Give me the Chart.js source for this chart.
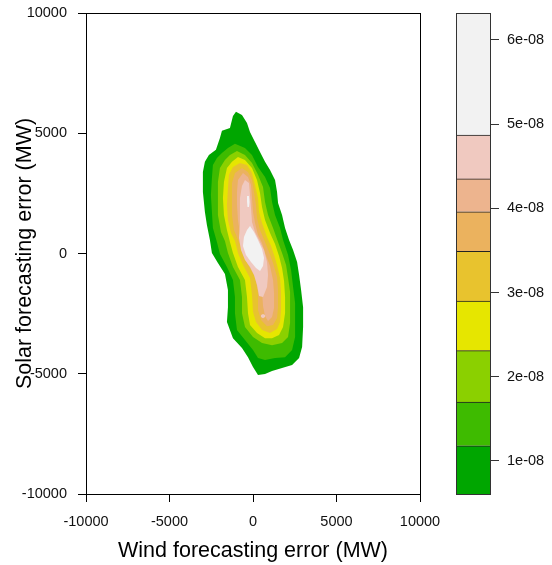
<!DOCTYPE html>
<html lang="en">
<head>
  <meta charset="UTF-8">
  <title>Wind vs solar forecasting error density</title>
  <script src="https://cdn.jsdelivr.net/npm/chart.js"></script>
  <style>
    body {
      margin: 0;
      background: white;
    }
    #wrap {
      position: relative;
      width: 552px;
      height: 565px;
    }
    #wrap canvas {
      position: absolute;
      top: 0;
    }
  </style>
</head>
<body>
  <div id="wrap">
    <canvas id="density" width="552" height="565" style="left:0"></canvas>
    <canvas id="key" width="112" height="565" style="left:440px"></canvas>
  </div>

  <script>
    // axis ticks (MW)
    const xTicks = [-10000, -5000, 0, 5000, 10000];
    const yTicks = [-10000, -5000, 0, 5000, 10000];

    // density levels of the key and their colours (terrain.colors(9))
    const keyLevels = [0.608e-8, 1.18e-8, 1.70e-8, 2.31e-8, 2.90e-8, 3.49e-8, 3.96e-8, 4.35e-8, 4.87e-8, 6.32e-8];
    const keyTicks = [1e-8, 2e-8, 3e-8, 4e-8, 5e-8, 6e-8];
    const bandColors = ["#00A600", "#3EBB00", "#8BD000", "#E6E600", "#E8C32E", "#EBB25E", "#EDB48E", "#F0C9C0", "#F2F2F2"];

    // contour outlines, [wind, solar] in MW, one per level (band index = level - 1)
    const level1 = [[-1020, 5890], [-660, 5760], [-360, 5430], [-180, 5050], [120, 4640], [420, 4220], [720, 3810], [1020, 3470],
      [1320, 3060], [1440, 2560], [1500, 2100], [1740, 1600], [1920, 1060], [2160, 560], [2400, 150], [2640, -350],
      [2760, -890], [2880, -1520], [3000, -2230], [3000, -3060], [2940, -3890], [2760, -4350], [2340, -4640], [1740, -4760],
      [1140, -4890], [720, -5010], [300, -5050], [0, -4720], [-300, -4310], [-660, -3930], [-1200, -3520], [-1560, -2850],
      [-1500, -2230], [-1500, -1520], [-1680, -850], [-2100, -400], [-2460, 20], [-2580, 560], [-2760, 1190], [-2880, 1730],
      [-3000, 2560], [-3000, 3390], [-2880, 3810], [-2640, 4100], [-2220, 4310], [-1980, 4800], [-1860, 5100], [-1380, 5220],
      [-1200, 5720]];
    const level2 = [[-1080, 4560], [-480, 4390], [-60, 4100], [300, 3600], [720, 3180], [1020, 2720], [1140, 2140], [1320, 1600],
      [1620, 1060], [1800, 560], [2100, -60], [2280, -690], [2400, -1390], [2520, -2060], [2520, -2770], [2520, -3470],
      [2340, -4010], [1920, -4310], [1320, -4350], [720, -4430], [300, -4350], [0, -4010], [-480, -3600], [-960, -3180],
      [-1080, -2480], [-1080, -1810], [-1200, -1100], [-1560, -560], [-1980, -20], [-2160, 480], [-2400, 1060], [-2460, 1730],
      [-2520, 2430], [-2460, 3140], [-2400, 3680], [-2160, 3970], [-1860, 4180], [-1500, 4390]];
    const level3 = [[-960, 4260], [-480, 4100], [-60, 3760], [300, 3270], [600, 2770], [720, 2140], [900, 1600], [1200, 1060],
      [1500, 480], [1740, 20], [1980, -480], [2100, -1020], [2220, -1600], [2220, -2230], [2220, -2890], [2100, -3470],
      [1740, -3720], [1140, -3810], [540, -3720], [0, -3470], [-480, -3060], [-660, -2480], [-660, -1810], [-780, -1100],
      [-1200, -560], [-1500, 20], [-1680, 520], [-1920, 890], [-2100, 1600], [-2100, 2310], [-2100, 2970], [-1980, 3560],
      [-1680, 3890], [-1380, 4100]];
    const level4 = [[-900, 4010], [-480, 3890], [-60, 3560], [240, 3060], [420, 2520], [540, 1930], [720, 1390], [1020, 850],
      [1320, 400], [1560, -100], [1740, -600], [1860, -1140], [1920, -1810], [1920, -2480], [1800, -3060], [1560, -3390],
      [1140, -3520], [720, -3520], [240, -3310], [-180, -2970], [-300, -2480], [-360, -1810], [-480, -1100], [-900, -560],
      [-1200, 20], [-1380, 480], [-1560, 980], [-1740, 1600], [-1800, 2310], [-1740, 2970], [-1560, 3560], [-1260, 3810]];
    const level5 = [[-780, 3760], [-360, 3680], [-60, 3350], [120, 2850], [300, 2310], [360, 1730], [540, 1270], [840, 690],
      [1080, 310], [1260, -60], [1440, -480], [1620, -1020], [1680, -1640], [1680, -2350], [1620, -2850], [1440, -3140],
      [1020, -3310], [540, -3180], [180, -2850], [0, -2430], [-60, -1730], [-180, -1020], [-600, -480], [-900, 20],
      [-1080, 520], [-1320, 850], [-1500, 1390], [-1560, 2020], [-1500, 2720], [-1440, 3270], [-1200, 3600]];
    const level6 = [[-660, 3560], [-300, 3390], [-60, 3060], [60, 2560], [180, 2020], [240, 1480], [420, 980], [720, 480],
      [960, 60], [1200, -400], [1440, -980], [1500, -1520], [1500, -2230], [1440, -2680], [1200, -2970], [840, -3020],
      [480, -2770], [300, -2350], [300, -1640], [120, -980], [-300, -480], [-600, 20], [-840, 480], [-1140, 980],
      [-1260, 1600], [-1260, 2310], [-1260, 2930], [-1080, 3350]];
    const level7 = [[-600, 3350], [-300, 3180], [-120, 2850], [-60, 2310], [0, 1730], [120, 1270], [300, 770], [540, 440],
      [720, 20], [1020, -520], [1200, -1100], [1260, -1640], [1260, -2270], [1140, -2640], [900, -2810], [720, -2600],
      [600, -2180], [540, -1520], [360, -940], [0, -440], [-300, 60], [-540, 520], [-780, 850], [-900, 1390],
      [-960, 2020], [-960, 2560], [-900, 3060]];
    const level8 = [[-480, 3060], [-240, 2930], [-180, 2430], [-120, 1890], [-60, 1310], [120, 890], [360, 560], [660, 150],
      [840, -350], [900, -890], [840, -1390], [600, -1810], [360, -1770], [240, -1310], [60, -890], [-180, -560],
      [-480, -270], [-720, 150], [-840, 640], [-780, 1190], [-780, 1730], [-780, 2310], [-660, 2810]];
    const level8b = [[480, -2560], [600, -2520], [720, -2560], [720, -2640], [600, -2690], [480, -2640]];
    const level9 = [[-180, 1140], [60, 890], [300, 560], [540, 190], [660, -190], [600, -520], [420, -730], [180, -600],
      [-120, -350], [-420, -60], [-600, 310], [-540, 690], [-360, 980]];
    const level9b = [[-360, 2390], [-240, 2390], [-210, 2140], [-240, 1930], [-330, 1930], [-360, 2180]];

    const contours = [
      { band: 0, pts: level1 }, { band: 1, pts: level2 }, { band: 2, pts: level3 },
      { band: 3, pts: level4 }, { band: 4, pts: level5 }, { band: 5, pts: level6 },
      { band: 6, pts: level7 }, { band: 7, pts: level8 }, { band: 7, pts: level8b },
      { band: 8, pts: level9 }, { band: 8, pts: level9b }
    ];

    const fontFamily = "'Liberation Sans', Arial, sans-serif";
    const tickFont = { family: fontFamily, size: 14.5 };
    const titleFont = { family: fontFamily, size: 21.5, lineHeight: 1 };

    const boxPlugin = {
      id: "box",
      afterDraw(chart, args, opts) {
        const { ctx, chartArea: a } = chart;
        ctx.save();
        ctx.strokeStyle = opts.color;
        ctx.lineWidth = 1;
        ctx.strokeRect(Math.round(a.left) + 0.5, Math.round(a.top) + 0.5,
          Math.round(a.right - a.left), Math.round(a.bottom - a.top));
        ctx.restore();
      }
    };

    function fmtSci(v) {
      return v.toExponential(0).replace(/e-(\d)$/, "e-0$1");
    }

    // keep the tick labels from pushing the plot area down
    function fixWidth(w) {
      return axis => {
        axis.width = w;
        axis.paddingTop = 0;
        axis.paddingBottom = 0;
      };
    }

    const datasets = contours.map((c, i) => ({
      data: c.pts.map(p => ({ x: p[0], y: p[1] })),
      backgroundColor: bandColors[c.band],
      borderColor: bandColors[c.band],
      borderWidth: 0,
      pointRadius: 0,
      tension: 0,
      fill: "shape",
      order: contours.length - i
    }));

    new Chart(document.getElementById("density"), {
      type: "line",
      data: { datasets },
      plugins: [boxPlugin],
      options: {
        responsive: false,
        animation: false,
        layout: { padding: { top: 13, right: 132, bottom: 0, left: 0 } },
        plugins: {
          legend: { display: false },
          tooltip: { enabled: false },
          box: { color: "#000" }
        },
        scales: {
          x: {
            type: "linear",
            min: -10000,
            max: 10000,
            afterBuildTicks: axis => { axis.ticks = xTicks.map(v => ({ value: v })); },
            afterFit: axis => { axis.height = 71; },
            border: { display: false },
            grid: { drawOnChartArea: false, drawTicks: true, tickLength: 8, color: "#000" },
            ticks: { color: "#111", font: tickFont, padding: 11, maxRotation: 0, callback: v => String(v) },
            title: { display: true, text: "Wind forecasting error (MW)", color: "#000", font: titleFont, padding: { top: 0, bottom: 3 } }
          },
          y: {
            type: "linear",
            min: -10000,
            max: 10000,
            afterBuildTicks: axis => { axis.ticks = yTicks.map(v => ({ value: v })); },
            afterFit: fixWidth(86),
            border: { display: false },
            grid: { drawOnChartArea: false, drawTicks: true, tickLength: 8, color: "#000" },
            ticks: { color: "#111", font: tickFont, padding: 11, callback: v => String(v) },
            title: { display: true, text: "Solar forecasting error (MW)", color: "#000", font: titleFont, padding: { top: 14, bottom: 0 } }
          }
        }
      }
    });

    // colour key
    const keyData = bandColors.map((col, i) => ({
      data: [[keyLevels[i], keyLevels[i + 1]]],
      backgroundColor: col,
      borderColor: "#222",
      borderWidth: { top: 1, bottom: 0, left: 0, right: 0 },
      borderSkipped: false
    }));

    new Chart(document.getElementById("key"), {
      type: "bar",
      data: { labels: ["key"], datasets: keyData },
      plugins: [boxPlugin],
      options: {
        responsive: false,
        animation: false,
        grouped: false,
        barPercentage: 1,
        categoryPercentage: 1,
        layout: { padding: { top: 13, right: 0, bottom: 71, left: 16 } },
        plugins: {
          legend: { display: false },
          tooltip: { enabled: false },
          box: { color: "#333" }
        },
        scales: {
          x: { display: false },
          y: {
            position: "right",
            min: keyLevels[0],
            max: keyLevels[keyLevels.length - 1],
            afterBuildTicks: axis => { axis.ticks = keyTicks.map(v => ({ value: v })); },
            afterFit: fixWidth(62),
            border: { display: false },
            grid: { drawOnChartArea: false, drawTicks: true, tickLength: 9, color: "#333" },
            ticks: { color: "#111", font: tickFont, padding: 8, callback: v => fmtSci(v) }
          }
        }
      }
    });
  </script>
</body>
</html>
